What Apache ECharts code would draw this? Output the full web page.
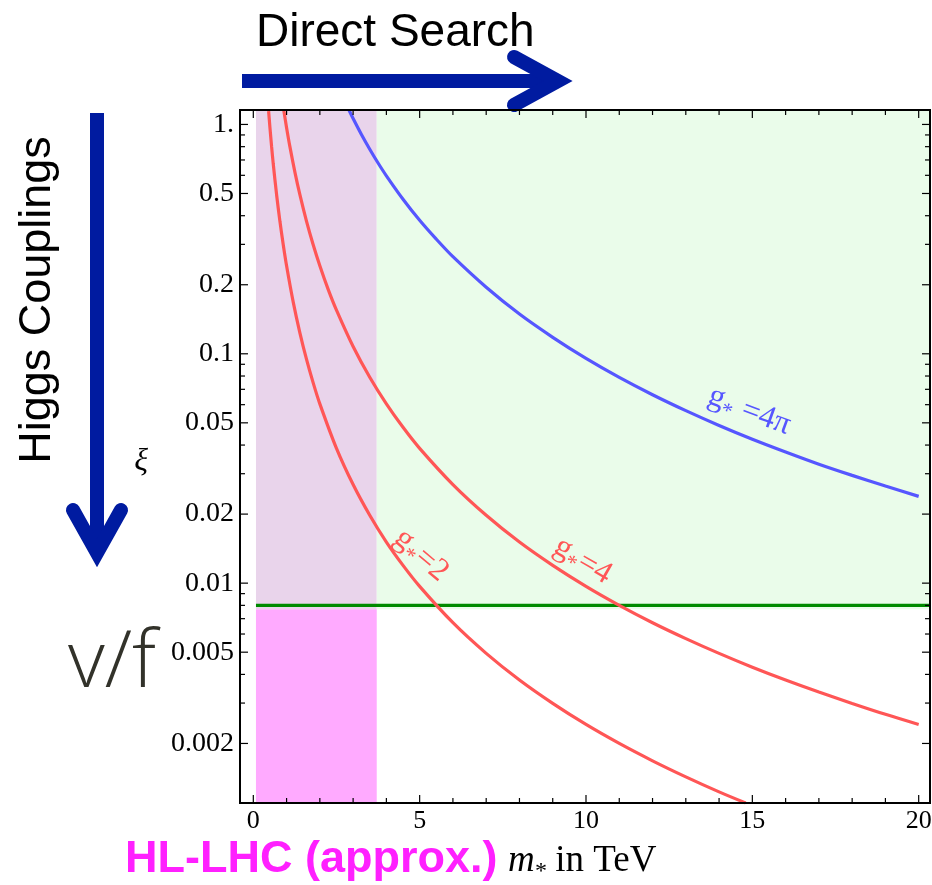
<!DOCTYPE html>
<html>
<head>
<meta charset="utf-8">
<script src="https://cdn.jsdelivr.net/npm/echarts@6/dist/echarts.min.js"></script>
<style>html,body{margin:0;padding:0;background:#fff;}#c{width:932px;height:885px;}</style>
</head>
<body>
<div id="c"></div>
<script>
// ---- data ----
const xRange = [-0.4, 20.34];
const yRange = [0.0011, 1.156];

// g* = 2
const curveG2M  = [0.46, 0.5, 0.55, 0.6, 0.7, 0.8, 0.9, 1.0, 1.2, 1.4, 1.6, 1.8, 2.0, 2.5, 3.0, 3.5, 4.0, 4.5, 5.0, 6.0, 7.0, 8.0, 9.0, 10.0, 11.0, 12.0, 13.0, 14.0, 14.8];
const curveG2Xi = [1.144, 0.968, 0.80, 0.672, 0.494, 0.378, 0.299, 0.242, 0.168, 0.1235, 0.0945, 0.0747, 0.0605, 0.0387, 0.0269, 0.01976, 0.0151, 0.01195, 0.00968, 0.00672, 0.00494, 0.00378, 0.00299, 0.00242, 0.0020, 0.00168, 0.00143, 0.00123, 0.0011];
// g* = 4
const curveG4M  = [0.915, 1.0, 1.1, 1.25, 1.4, 1.6, 1.8, 2.0, 2.25, 2.5, 3.0, 3.5, 4.0, 4.5, 5.0, 6.0, 7.0, 8.0, 9.0, 10.0, 11.0, 12.0, 13.0, 14.0, 15.0, 16.0, 17.0, 18.0, 19.0, 20.0];
const curveG4Xi = [1.156, 0.968, 0.80, 0.62, 0.494, 0.378, 0.299, 0.242, 0.191, 0.155, 0.1076, 0.079, 0.0605, 0.0478, 0.0387, 0.0269, 0.01976, 0.0151, 0.01195, 0.00968, 0.0080, 0.00672, 0.00573, 0.00494, 0.0043, 0.00378, 0.00335, 0.00299, 0.00268, 0.00242];
// g* = 4π
const curveG4piM  = [2.875, 3.0, 3.25, 3.5, 3.75, 4.0, 4.5, 5.0, 5.5, 6.0, 7.0, 8.0, 9.0, 10.0, 11.0, 12.0, 13.0, 14.0, 15.0, 16.0, 17.0, 18.0, 19.0, 20.0];
const curveG4piXi = [1.156, 1.061, 0.904, 0.780, 0.679, 0.597, 0.472, 0.382, 0.316, 0.265, 0.195, 0.149, 0.118, 0.0955, 0.0789, 0.0663, 0.0565, 0.0487, 0.0424, 0.0373, 0.0330, 0.0295, 0.0265, 0.0239];

// HL-LHC bound on xi and direct-search reach in m*
const xiBound = 0.008;
const xiBandEdge = 0.0077;
const directReachM = [0.08, 3.71];

// curve labels: position [m*, xi] and text
const curveLabelPos = [[5.10, 0.0129], [9.97, 0.01225], [14.93, 0.0558]];
const curveLabelVal = ['=2', '=4', ' =4\u03c0'];

// ticks
const xTickValues = [0,1,2,3,4,5,6,7,8,9,10,11,12,13,14,15,16,17,18,19,20];
const xTickLabels = ['0','5','10','15','20'];
const xTickLabelValues = [0,5,10,15,20];
const yTickValues = [0.002,0.003,0.004,0.005,0.006,0.007,0.008,0.009,
                     0.01,0.02,0.03,0.04,0.05,0.06,0.07,0.08,0.09,
                     0.1,0.2,0.3,0.4,0.5,0.6,0.7,0.8,0.9,1.0];
const yTickLabelValues = [1, 0.5, 0.2, 0.1, 0.05, 0.02, 0.01, 0.005, 0.002];
const yTickLabels = ['1.', '0.5', '0.2', '0.1', '0.05', '0.02', '0.01', '0.005', '0.002'];

// ---- chart ----
const RED = '#ff5656', BLUE = '#5656ff', GREEN = '#008a00';
const SERIF = '"Liberation Serif", "Times New Roman", serif';
const SANS = '"Liberation Sans", Arial, sans-serif';

function zip(a, b) { return a.map((v, i) => [v, b[i]]); }
function findIdx(arr, v) { for (let i = 0; i < arr.length; i++) if (Math.abs(arr[i] - v) < 1e-9) return i; return -1; }

const chart = echarts.init(document.getElementById('c'), null, {renderer: 'canvas'});

const option = {
  animation: false,
  backgroundColor: '#fff',
  grid: {left: 240, top: 110, right: 2, bottom: 82, show: false},
  xAxis: {type: 'value', min: xRange[0], max: xRange[1],
    axisLine: {show: false}, axisTick: {show: false}, axisLabel: {show: false}, splitLine: {show: false}},
  yAxis: {type: 'log', logBase: 10, min: yRange[0], max: yRange[1],
    axisLine: {show: false}, axisTick: {show: false}, axisLabel: {show: false}, splitLine: {show: false}, minorSplitLine: {show: false}},
  series: [
    { // regions
      type: 'line', data: [], z: 1, silent: true,
      markArea: {silent: true, data: [
        [{coord: [directReachM[0], xiBandEdge], itemStyle: {color: '#e9d4eb'}}, {coord: [directReachM[1], yRange[1]]}],
        [{coord: [directReachM[1], xiBandEdge], itemStyle: {color: '#eafcea'}}, {coord: [xRange[1], yRange[1]]}],
        [{coord: [directReachM[0], yRange[0]], itemStyle: {color: '#ffaaff'}}, {coord: [directReachM[1], xiBandEdge]}]
      ]}
    },
    {type: 'line', name: 'bound', z: 3, data: [[directReachM[0], xiBound], [xRange[1], xiBound]], showSymbol: false,
      lineStyle: {color: GREEN, width: 3.4}},
    {type: 'line', name: 'g2', z: 4, data: zip(curveG2M, curveG2Xi), smooth: 0.3, showSymbol: false,
      lineStyle: {color: RED, width: 3.2}},
    {type: 'line', name: 'g4', z: 4, data: zip(curveG4M, curveG4Xi), smooth: 0.3, showSymbol: false,
      lineStyle: {color: RED, width: 3.2}},
    {type: 'line', name: 'g4pi', z: 4, data: zip(curveG4piM, curveG4piXi), smooth: 0.3, showSymbol: false,
      lineStyle: {color: BLUE, width: 3.2}},
    { // curve labels
      type: 'custom', z: 5, clip: false, silent: true,
      data: curveLabelPos,
      renderItem: function (params, api) {
        const i = params.dataIndex;
        const p = api.coord([api.value(0), api.value(1)]);
        const color = i === 2 ? BLUE : RED;
        const rot = [40, 30, 20][i] * Math.PI / 180;
        const tail = curveLabelVal[i];
        const tailW = i === 2 ? 60 : 40;
        const total = 16 + 12 + tailW;
        const x0 = -total / 2;
        return {type: 'group', x: p[0], y: p[1], rotation: -rot, children: [
          {type: 'text', x: x0, y: -2, style: {text: 'g', font: '32px ' + SERIF, fill: color, align: 'left', verticalAlign: 'middle'}},
          {type: 'text', x: x0 + 16, y: 8, style: {text: '*', font: '22px ' + SERIF, fill: color, align: 'left', verticalAlign: 'middle'}},
          {type: 'text', x: x0 + 28, y: 0, style: {text: tail, font: '32px ' + SERIF, fill: color, align: 'left', verticalAlign: 'middle'}}
        ]};
      }
    },
    { // y ticks & labels
      type: 'custom', z: 6, clip: false, silent: true,
      data: yTickValues.map(v => [xRange[0], v]),
      renderItem: function (params, api) {
        const v = api.value(1);
        const pl = api.coord([xRange[0], v]);
        const pr = api.coord([xRange[1], v]);
        const k = findIdx(yTickLabelValues, v);
        const len = k >= 0 ? 8 : 5;
        const ch = [
          {type: 'line', shape: {x1: pl[0], y1: pl[1], x2: pl[0] + len, y2: pl[1]}, style: {stroke: '#000', lineWidth: 1.2}},
          {type: 'line', shape: {x1: pr[0], y1: pr[1], x2: pr[0] - len, y2: pr[1]}, style: {stroke: '#000', lineWidth: 1.2}}
        ];
        if (k >= 0) ch.push({type: 'text', x: pl[0] - 6, y: pl[1], style: {text: yTickLabels[k], font: '28px ' + SERIF, fill: '#000', align: 'right', verticalAlign: 'middle'}});
        return {type: 'group', children: ch};
      }
    },
    { // x ticks & labels
      type: 'custom', z: 6, clip: false, silent: true,
      data: xTickValues.map(v => [v, yRange[0]]),
      renderItem: function (params, api) {
        const v = api.value(0);
        const pb = api.coord([v, yRange[0]]);
        const pt = api.coord([v, yRange[1]]);
        const k = findIdx(xTickLabelValues, v);
        const len = k >= 0 ? 8 : 5;
        const ch = [
          {type: 'line', shape: {x1: pb[0], y1: pb[1], x2: pb[0], y2: pb[1] - len}, style: {stroke: '#000', lineWidth: 1.2}},
          {type: 'line', shape: {x1: pt[0], y1: pt[1], x2: pt[0], y2: pt[1] + len}, style: {stroke: '#000', lineWidth: 1.2}}
        ];
        if (k >= 0) ch.push({type: 'text', x: pb[0], y: pb[1] + 5, style: {text: xTickLabels[k], font: '26px ' + SERIF, fill: '#000', align: 'center', verticalAlign: 'top'}});
        return {type: 'group', children: ch};
      }
    }
  ],
  graphic: [
    // plot frame
    {type: 'rect', z: 100, silent: true, shape: {x: 240, y: 110, width: 690, height: 693}, style: {fill: null, stroke: '#000', lineWidth: 2}},
    // Direct Search arrow
    {type: 'text', z: 50, x: 256, y: 33, style: {text: 'Direct Search', font: '46px ' + SANS, fill: '#000', align: 'left', verticalAlign: 'middle'}},
    {type: 'line', z: 50, shape: {x1: 242, y1: 81, x2: 555, y2: 81}, style: {stroke: '#001ba0', lineWidth: 14}},
    {type: 'polyline', z: 50, shape: {points: [[514, 57], [558, 81], [514, 105]]}, style: {stroke: '#001ba0', lineWidth: 14, lineCap: 'round', lineJoin: 'miter', fill: null}},
    // Higgs Couplings arrow
    {type: 'text', z: 50, x: 38, y: 300, rotation: Math.PI / 2, style: {text: 'Higgs Couplings', font: '45px ' + SANS, fill: '#000', align: 'center', verticalAlign: 'middle'}},
    {type: 'line', z: 50, shape: {x1: 97, y1: 113, x2: 97, y2: 552}, style: {stroke: '#001ba0', lineWidth: 14}},
    {type: 'polyline', z: 50, shape: {points: [[73, 510], [97, 553], [121, 510]]}, style: {stroke: '#001ba0', lineWidth: 14, lineCap: 'round', lineJoin: 'miter', fill: null}},
    // xi axis label
    {type: 'text', z: 50, x: 141, y: 462, style: {text: '\u03be', font: 'italic 32px ' + SERIF, fill: '#000', align: 'center', verticalAlign: 'middle'}},
    // v/f
    {type: 'text', z: 50, x: 112, y: 664, style: {text: 'v/f', font: '300 80px "Open Sans", "DejaVu Sans", sans-serif', fill: '#32322a', align: 'center', verticalAlign: 'middle'}},
    // bottom labels
    {type: 'text', z: 50, x: 125, y: 860, style: {text: 'HL-LHC (approx.)', font: 'bold 45px ' + SANS, fill: '#ff20ff', align: 'left', verticalAlign: 'middle'}},
    {type: 'text', z: 50, x: 508, y: 861, style: {text: 'm', font: 'italic 37px ' + SERIF, fill: '#000', align: 'left', verticalAlign: 'middle'}},
    {type: 'text', z: 50, x: 535, y: 872, style: {text: '*', font: '24px ' + SERIF, fill: '#000', align: 'left', verticalAlign: 'middle'}},
    {type: 'text', z: 50, x: 546, y: 861, style: {text: ' in TeV', font: '37px ' + SERIF, fill: '#000', align: 'left', verticalAlign: 'middle'}}
  ]
};
chart.setOption(option);
</script>
</body>
</html>
